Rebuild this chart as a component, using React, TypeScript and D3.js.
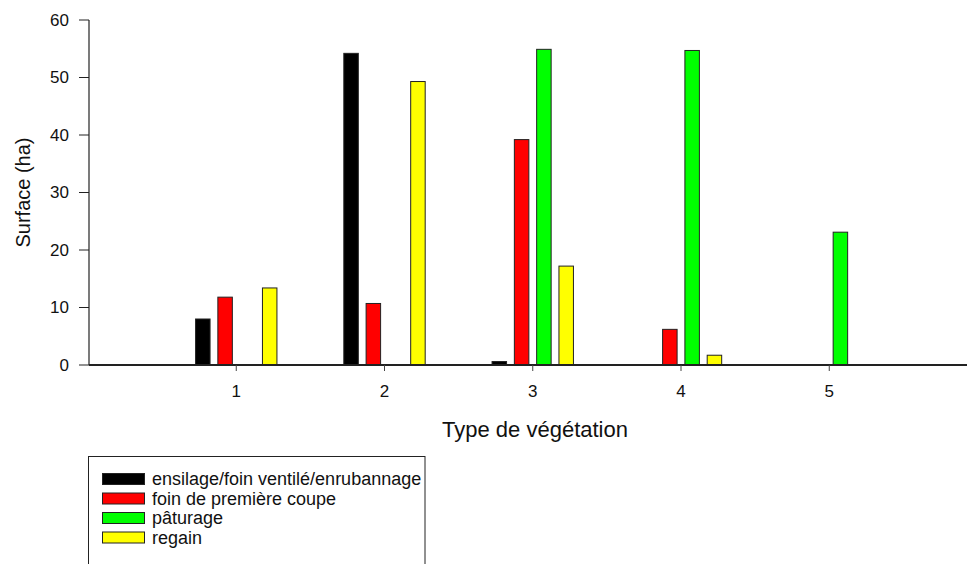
import React from "react";
import * as d3 from "d3";

const categories = [1, 2, 3, 4, 5];
const seriesNames = [
  "ensilage/foin ventilé/enrubannage",
  "foin de première coupe",
  "pâturage",
  "regain",
];
const seriesColors = ["#000000", "#ff0000", "#00ff00", "#ffff00"];
const ensilage = [8.0, 54.2, 0.6, 0, 0];
const foin = [11.8, 10.7, 39.2, 6.2, 0];
const paturage = [0, 0, 54.9, 54.7, 23.1];
const regain = [13.4, 49.3, 17.2, 1.7, 0];
const yTicks = [0, 10, 20, 30, 40, 50, 60];

const W = 967;
const H = 564;

export default function App() {
  const series = [ensilage, foin, paturage, regain];
  const x = d3.scaleLinear().domain([0, 6]).range([88, 977.5]);
  const y = d3.scaleLinear().domain([0, 60]).range([365, 20]);
  const groupW = (x(1) - x(0)) * 0.6;
  const slot = d3
    .scaleBand<number>()
    .domain(d3.range(series.length))
    .range([-groupW / 2, groupW / 2])
    .paddingInner(0.35)
    .paddingOuter(0.17);
  const font = "Arial, 'Liberation Sans', Helvetica, sans-serif";
  const legendY0 = 479;
  const legendStep = 19.5;

  return (
    <svg
      width={W}
      height={H}
      style={{ position: "absolute", left: 0, top: 0, background: "#fff" }}
      fontFamily={font}
    >
      <rect x={0} y={0} width={W} height={H} fill="#fff" />
      {/* bars */}
      {series.map((vals, si) =>
        vals.map((v, ci) =>
          v > 0 ? (
            <rect
              key={`${si}-${ci}`}
              x={x(categories[ci]) + (slot(si) as number)}
              y={y(v)}
              width={slot.bandwidth()}
              height={y(0) - y(v)}
              fill={seriesColors[si]}
              stroke="#222"
              strokeWidth={1}
            />
          ) : null
        )
      )}
      {/* y axis */}
      <line x1={89} x2={89} y1={y(60)} y2={y(0)} stroke="#222" strokeWidth={1.2} />
      {yTicks.map((t) => (
        <g key={t}>
          <line x1={79} x2={89} y1={y(t)} y2={y(t)} stroke="#222" strokeWidth={1} />
          <text
            x={69}
            y={y(t)}
            textAnchor="end"
            dominantBaseline="central"
            fontSize={17}
            fill="#111"
          >
            {t}
          </text>
        </g>
      ))}
      {/* x axis */}
      <line x1={89} x2={W} y1={y(0)} y2={y(0)} stroke="#222" strokeWidth={2} />
      {categories.map((c) => (
        <g key={c}>
          <line x1={x(c)} x2={x(c)} y1={y(0)} y2={y(0) + 6} stroke="#444" strokeWidth={1} />
          <text
            x={x(c)}
            y={y(0) + 32}
            textAnchor="middle"
            fontSize={17}
            fill="#111"
          >
            {c}
          </text>
        </g>
      ))}
      <text x={535} y={437} textAnchor="middle" fontSize={22} fill="#111">
        Type de végétation
      </text>
      <text
        transform={`translate(30, ${(y(0) + y(60)) / 2}) rotate(-90)`}
        textAnchor="middle"
        fontSize={20}
        fill="#111"
      >
        Surface (ha)
      </text>
      {/* legend */}
      <rect x={88.5} y={456.5} width={336.5} height={140} fill="none" stroke="#222" strokeWidth={1} />
      {seriesNames.map((n, i) => (
        <g key={n}>
          <rect
            x={102.5}
            y={legendY0 + i * legendStep - 5.5}
            width={42}
            height={11}
            fill={seriesColors[i]}
            stroke="#222"
            strokeWidth={1}
          />
          <text
            x={152}
            y={legendY0 + i * legendStep}
            dominantBaseline="central"
            fontSize={18}
            fill="#111"
          >
            {n}
          </text>
        </g>
      ))}
    </svg>
  );
}
